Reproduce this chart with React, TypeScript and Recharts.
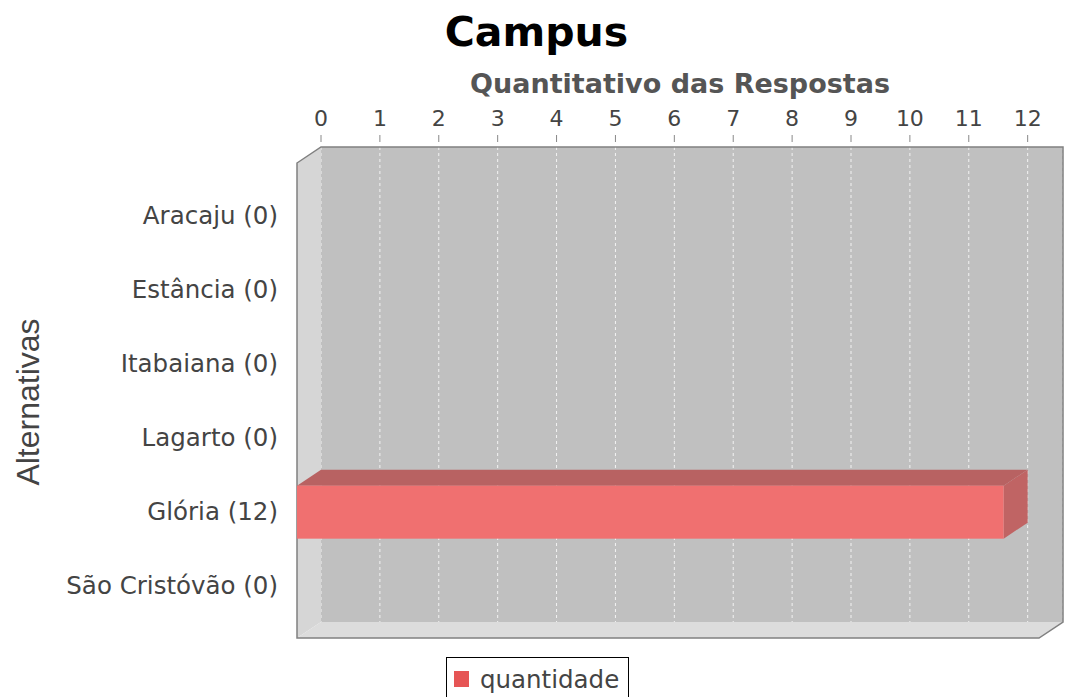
import React from "react";
import { BarChart, Bar, XAxis, YAxis, CartesianGrid, Customized } from "recharts";

// valores
const categorias = ["Aracaju (0)", "Estância (0)", "Itabaiana (0)", "Lagarto (0)", "Glória (12)", "São Cristóvão (0)"];
const quantidade = [0, 0, 0, 0, 12, 0];
const ticksX = [0, 1, 2, 3, 4, 5, 6, 7, 8, 9, 10, 11, 12];

const data = categorias.map((nome, i) => ({ nome, quantidade: quantidade[i] }));

// geometria da "caixa" 3D (parede do fundo = área de plotagem)
const W = 1065;
const H = 697;
const LEFT = 321;
const TOP = 147;
const RIGHT = 1063;
const BOTTOM = 622;
const DX = 24;
const DY = 16;

const FONT = "'DejaVu Sans', Verdana, sans-serif";
const TXT = "#444444";

function Paredes() {
    return (
        <g>
            {/* parede lateral */}
            <polygon
                points={`${LEFT - DX},${TOP + DY} ${LEFT},${TOP} ${LEFT},${BOTTOM} ${LEFT - DX},${BOTTOM + DY}`}
                fill="#d6d6d6"
            />
            {/* chão */}
            <polygon
                points={`${LEFT - DX},${BOTTOM + DY} ${LEFT},${BOTTOM} ${RIGHT},${BOTTOM} ${RIGHT - DX},${BOTTOM + DY}`}
                fill="#dcdcdc"
            />
        </g>
    );
}

function Contorno() {
    return (
        <polygon
            points={`${LEFT - DX},${TOP + DY} ${LEFT},${TOP} ${RIGHT},${TOP} ${RIGHT},${BOTTOM} ${RIGHT - DX},${BOTTOM + DY} ${LEFT - DX},${BOTTOM + DY}`}
            fill="none"
            stroke="#808080"
            strokeWidth={1.5}
        />
    );
}

function Barra3D(props: any) {
    const { x, y, width, height } = props;
    if (!width || width <= 0) return null;
    const fx = x - DX;
    const fy = y + DY;
    return (
        <g>
            <polygon
                points={`${fx},${fy} ${x},${y} ${x + width},${y} ${x + width - DX},${fy}`}
                fill="#b86262"
            />
            <polygon
                points={`${x + width - DX},${fy} ${x + width},${y} ${x + width},${y + height} ${x + width - DX},${fy + height}`}
                fill="#c06464"
            />
            <rect x={fx} y={fy} width={width} height={height} fill="#f07070" />
        </g>
    );
}

function TickTopo(props: any) {
    const { x, y, payload } = props;
    return (
        <g>
            <line x1={x} y1={y - 12} x2={x} y2={y - 5} stroke="#888" strokeWidth={1} />
            <text x={x} y={y - 21} textAnchor="middle" fontFamily={FONT} fontSize={22} fill={TXT}>
                {payload.value}
            </text>
        </g>
    );
}

function TickCategoria(props: any) {
    const { x, y, payload } = props;
    return (
        <text x={x} y={y + DY} textAnchor="end" dominantBaseline="central" fontFamily={FONT} fontSize={24.5} fill={TXT}>
            {payload.value}
        </text>
    );
}

export default function App() {
    return (
        <div style={{ position: "absolute", left: 0, top: 0, width: W, height: H, background: "#fff", overflow: "hidden" }}>
            <div
                style={{
                    position: "absolute",
                    left: 4,
                    top: 11,
                    width: W,
                    textAlign: "center",
                    fontFamily: FONT,
                    fontWeight: "bold",
                    fontSize: 41,
                    lineHeight: "42px",
                    color: "#000",
                }}
            >
                Campus
            </div>
            <BarChart
                width={W}
                height={H}
                data={data}
                layout="vertical"
                margin={{ top: 0, right: W - RIGHT, bottom: H - BOTTOM, left: 0 }}
            >
                <Customized component={Paredes} />
                <CartesianGrid
                    horizontal={false}
                    fill="#c0c0c0"
                    stroke="#ffffff"
                    strokeOpacity={0.8}
                    strokeDasharray="3 3"
                />
                <XAxis
                    type="number"
                    orientation="top"
                    domain={[0, 12.6]}
                    ticks={ticksX}
                    height={TOP}
                    axisLine={false}
                    tickLine={false}
                    tickSize={0}
                    tickMargin={0}
                    tick={<TickTopo />}
                    label={{
                        content: () => (
                            <text x={680} y={93} textAnchor="middle" fontFamily={FONT} fontWeight="bold" fontSize={27} fill="#555">
                                Quantitativo das Respostas
                            </text>
                        ),
                    }}
                />
                <YAxis
                    type="category"
                    dataKey="nome"
                    width={LEFT}
                    padding={{ top: 15, bottom: 15 }}
                    axisLine={false}
                    tickLine={false}
                    tickSize={0}
                    tickMargin={43}
                    tick={<TickCategoria />}
                    interval={0}
                    label={{
                        content: () => (
                            <text
                                x={28}
                                y={402}
                                transform="rotate(-90, 28, 402)"
                                textAnchor="middle"
                                dominantBaseline="central"
                                fontFamily="'Liberation Sans', Arial, sans-serif"
                                fontSize={32}
                                fill={TXT}
                            >
                                Alternativas
                            </text>
                        ),
                    }}
                />
                <Bar dataKey="quantidade" barSize={53} shape={<Barra3D />} isAnimationActive={false} />
                <Customized component={Contorno} />
            </BarChart>
            <div
                style={{
                    position: "absolute",
                    left: 446,
                    top: 657,
                    width: 183,
                    height: 48,
                    boxSizing: "border-box",
                    border: "1px solid #000",
                    display: "flex",
                    alignItems: "flex-start",
                    paddingTop: 9,
                    paddingLeft: 7,
                    fontFamily: FONT,
                    fontSize: 24.5,
                    color: TXT,
                }}
            >
                <span style={{ display: "inline-block", width: 15, height: 16, background: "#e65555", marginTop: 4, marginRight: 11 }} />
                <span style={{ lineHeight: "26px" }}>quantidade</span>
            </div>
        </div>
    );
}
